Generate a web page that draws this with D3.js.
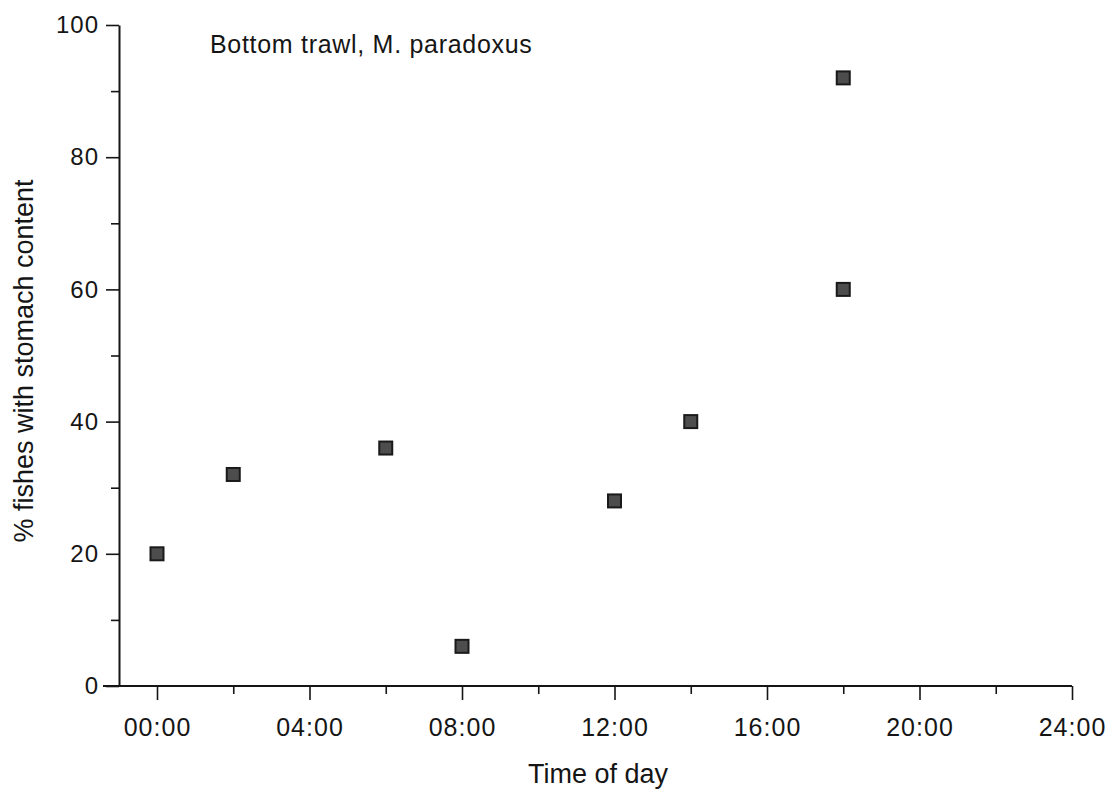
<!DOCTYPE html>
<html>
<head>
<meta charset="utf-8">
<script src="https://cdn.jsdelivr.net/npm/d3@7"></script>
<style>
  html, body { margin: 0; padding: 0; background: #fff; }
  svg { display: block; font-family: "Liberation Sans", Arial, sans-serif; }
</style>
</head>
<body>
<svg id="chart" width="1110" height="792"></svg>
<script>
// data
const hours = [0, 2, 6, 8, 12, 14, 18, 18];
const pctWithContent = [20, 32, 36, 6, 28, 40, 92, 60];
const xTickValues = [0, 4, 8, 12, 16, 20, 24];
const xMinorTicks = [2, 6, 10, 14, 18, 22];
const yTickValues = [0, 20, 40, 60, 80, 100];
const yMinorTicks = [10, 30, 50, 70, 90];
const title = "Bottom trawl, M. paradoxus";
const xTitle = "Time of day";
const yTitle = "% fishes with stomach content";

const width = 1110, height = 792;
const ink = "#151515";
const yAxisX = 119;

const svg = d3.select("#chart");

// scales
const x = d3.scaleLinear().domain([0, 24]).range([157, 1072]);
const y = d3.scaleLinear().domain([0, 100]).range([686, 25]);

const fmtHour = h => String(h).padStart(2, "0") + ":00";

// x axis (major + minor ticks)
const gx = svg.append("g")
  .attr("transform", "translate(0," + y(0) + ")")
  .call(d3.axisBottom(x).tickValues(xTickValues).tickFormat(fmtHour)
    .tickSize(14).tickSizeOuter(0).tickPadding(18));
gx.select(".domain").remove();
gx.selectAll(".tick line").attr("stroke", ink).attr("stroke-width", 1.6);
gx.selectAll(".tick text")
  .attr("fill", ink).attr("font-size", 25).attr("letter-spacing", 1)
  .attr("font-family", "'Liberation Sans', Arial, sans-serif");

const gxMinor = svg.append("g")
  .attr("transform", "translate(0," + y(0) + ")")
  .call(d3.axisBottom(x).tickValues(xMinorTicks).tickFormat("").tickSize(8).tickSizeOuter(0));
gxMinor.select(".domain").remove();
gxMinor.selectAll(".tick line").attr("stroke", ink).attr("stroke-width", 1.6);

// baseline, runs a little left past the y axis
svg.append("line")
  .attr("x1", yAxisX - 16).attr("x2", x(24))
  .attr("y1", y(0)).attr("y2", y(0))
  .attr("stroke", ink).attr("stroke-width", 2);

// y axis
const gy = svg.append("g")
  .attr("transform", "translate(" + yAxisX + ",0)")
  .call(d3.axisLeft(y).tickValues(yTickValues).tickSize(13).tickSizeOuter(0).tickPadding(7));
gy.select(".domain").attr("stroke", ink).attr("stroke-width", 2);
gy.selectAll(".tick line").attr("stroke", ink).attr("stroke-width", 1.6);
gy.selectAll(".tick text")
  .attr("fill", ink).attr("font-size", 24).attr("letter-spacing", 1)
  .attr("font-family", "'Liberation Sans', Arial, sans-serif");

const gyMinor = svg.append("g")
  .attr("transform", "translate(" + yAxisX + ",0)")
  .call(d3.axisLeft(y).tickValues(yMinorTicks).tickFormat("").tickSize(8).tickSizeOuter(0));
gyMinor.select(".domain").remove();
gyMinor.selectAll(".tick line").attr("stroke", ink).attr("stroke-width", 1.6);

// points (square markers)
const size = 13;
svg.append("g")
  .selectAll("rect")
  .data(hours.map((h, i) => ({ h: h, v: pctWithContent[i] })))
  .join("rect")
  .attr("x", d => x(d.h) - size / 2)
  .attr("y", d => y(d.v) - size / 2)
  .attr("width", size).attr("height", size)
  .attr("fill", "#4d4d4d")
  .attr("stroke", "#1a1a1a")
  .attr("stroke-width", 2);

// title inside the plot
svg.append("text")
  .attr("x", 210).attr("y", 53)
  .attr("font-size", 25).attr("letter-spacing", 0.7)
  .attr("fill", ink)
  .text(title);

// axis titles
svg.append("text")
  .attr("x", 598).attr("y", 783)
  .attr("text-anchor", "middle")
  .attr("font-size", 27)
  .attr("fill", ink)
  .text(xTitle);

svg.append("text")
  .attr("transform", "translate(33," + 361 + ") rotate(-90)")
  .attr("text-anchor", "middle")
  .attr("font-size", 27)
  .attr("fill", ink)
  .text(yTitle);
</script>
</body>
</html>
